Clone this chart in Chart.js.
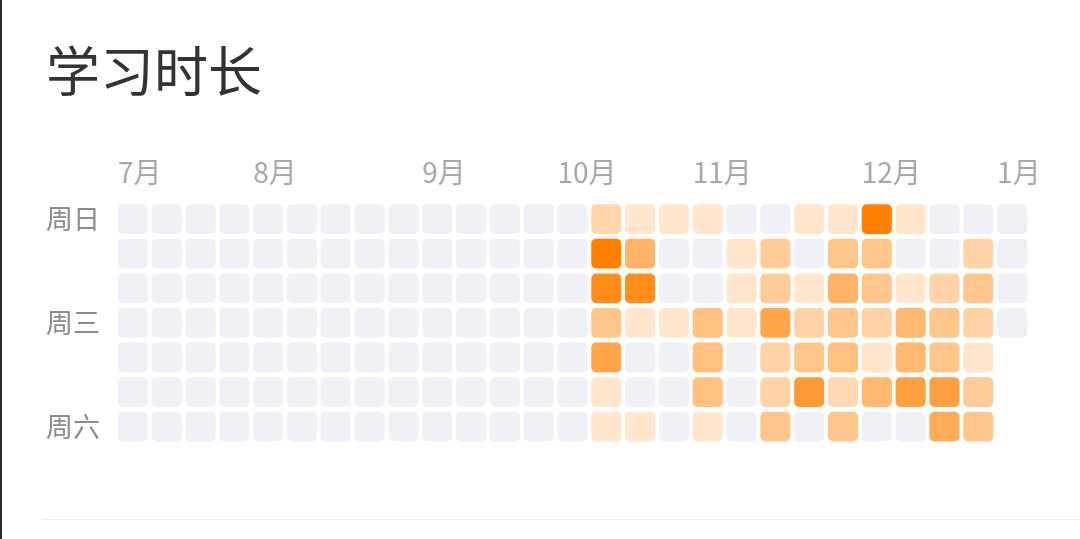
<!DOCTYPE html>
<html>
<head>
<meta charset="utf-8">
<script src="https://cdn.jsdelivr.net/npm/chart.js@4"></script>
<style>
  html, body { margin: 0; padding: 0; background: #ffffff; }
  #wrap { position: relative; width: 1080px; height: 539px; overflow: hidden; }
  #edge { position: absolute; left: 0; top: 0; width: 2px; height: 539px; background: #2b2b2b; }
  #rule { position: absolute; left: 43px; top: 519px; width: 1037px; height: 1px; background: #eeeeee; }
</style>
</head>
<body>
<div id="wrap">
  <canvas id="c"></canvas>
  <div id="edge"></div>
  <div id="rule"></div>
</div>
<script>
// ---- data ----
const title = '学习时长';
const weekdayLabels = ['周日', '周一', '周二', '周三', '周四', '周五', '周六'];
const shownWeekdays = [0, 3, 6];
// one entry per week column (27 weeks), month label where a month starts
const weekTicks = ['7月','','','','8月','','','','','9月','','','','10月','','','','11月','','','','','12月','','','','1月'];
// study intensity per week column for each weekday (0 = none, null = no day yet)
const sun = [0,0,0,0,0,0,0,0,0,0,0,0,0,0, 3.3, 2, 2, 2, 0, 0, 2, 2, 10, 2, 0, 0, 0];
const mon = [0,0,0,0,0,0,0,0,0,0,0,0,0,0, 10, 6, 0, 0, 2, 4, 0, 4.5, 4.5, 0, 0, 3.5, 0];
const tue = [0,0,0,0,0,0,0,0,0,0,0,0,0,0, 9, 9, 0, 0, 2, 4, 2, 6, 4.5, 2, 3.5, 4.5, 0];
const wed = [0,0,0,0,0,0,0,0,0,0,0,0,0,0, 4.5, 2, 2, 5, 2, 7, 3.5, 4.5, 3.5, 5.5, 4.5, 3.5, 0];
const thu = [0,0,0,0,0,0,0,0,0,0,0,0,0,0, 7, 0, 0, 5, 0, 3.5, 4.5, 5, 2, 5.5, 4.5, 2, null];
const fri = [0,0,0,0,0,0,0,0,0,0,0,0,0,0, 2, 0, 0, 5, 0, 3.5, 8, 3, 5.5, 7.5, 7.5, 4, null];
const sat = [0,0,0,0,0,0,0,0,0,0,0,0,0,0, 2, 2, 0, 2, 0, 4.5, 0, 4.5, 0, 0, 6.5, 4.5, null];
const maxValue = 10;

// ---- styling ----
const rows = [sun, mon, tue, wed, thu, fri, sat];
const emptyColor = '#f0f0f7';
const hot = [255, 128, 0];
function cellColor(v) {
  if (!v) return emptyColor;
  const a = Math.min(1, v / maxValue);
  const c = hot.map(h => Math.round(255 - a * (255 - h)));
  return 'rgb(' + c.join(',') + ')';
}
const gap = 0.07;
const datasets = rows.map((vals, r) => ({
  label: weekdayLabels[r],
  data: vals.map(v => v === null ? null : [r + gap, r + 1 - gap]),
  backgroundColor: ctx => cellColor(vals[ctx.dataIndex]),
  borderWidth: 0,
  borderRadius: 5,
  borderSkipped: false,
  grouped: false,
  categoryPercentage: 1,
  barPercentage: 0.89
}));

const FONT = '"Noto Sans CJK SC", "Noto Sans", sans-serif';

new Chart(document.getElementById('c'), {
  type: 'bar',
  data: { labels: weekTicks, datasets },
  options: {
    responsive: true,
    maintainAspectRatio: false,
    animation: false,
    events: [],
    layout: { padding: { left: 46, right: 51, top: 0, bottom: 95 } },
    plugins: {
      legend: { display: false },
      tooltip: { enabled: false },
      title: {
        display: true,
        text: title,
        align: 'start',
        color: '#333333',
        font: { family: FONT, size: 54, weight: 'normal', lineHeight: 1.2 },
        padding: { top: 39, bottom: 54 }
      }
    },
    scales: {
      x: {
        type: 'category',
        position: 'top',
        offset: true,
        grid: { display: false, drawTicks: false },
        border: { display: false },
        ticks: {
          autoSkip: false,
          maxRotation: 0,
          minRotation: 0,
          align: 'start',
          labelOffset: -15,
          padding: 13,
          color: '#a8a8a8',
          font: { family: FONT, size: 28, lineHeight: 1.2 }
        },
        afterFit: s => { s.height = 44; }
      },
      y: {
        type: 'linear',
        reverse: true,
        min: 0,
        max: 7,
        grid: { display: false, drawTicks: false },
        border: { display: false },
        afterBuildTicks: s => { s.ticks = shownWeekdays.map(i => ({ value: i + 0.5 })); },
        ticks: {
          autoSkip: false,
          padding: 16,
          color: '#8c8c8c',
          font: { family: FONT, size: 27, lineHeight: 1.2 },
          callback: v => weekdayLabels[Math.floor(v)]
        },
        afterFit: s => { s.width = 70; }
      }
    }
  }
});
</script>
</body>
</html>
